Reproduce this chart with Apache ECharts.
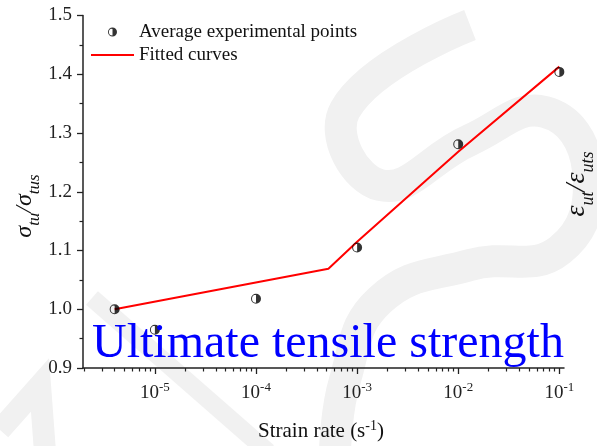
<!DOCTYPE html>
<html><head><meta charset="utf-8">
<script src="https://cdn.jsdelivr.net/npm/echarts@6/dist/echarts.min.js"></script>
<style>html,body{margin:0;padding:0;background:#fff}#c{width:597px;height:446px}</style>
</head><body><div id="c"></div>
<script>
// ---- data ----
const strainRates = [4e-6, 1e-5, 1e-4, 1e-3, 1e-2, 1e-1];
const avgRatios = [1.000, 0.965, 1.018, 1.105, 1.281, 1.404];
const fitRates = [4e-6, 5.2e-4, 1e-3, 1e-2, 1e-1];
const fitRatios = [1.000, 1.069, 1.115, 1.268, 1.413];
const xExponents = [-5, -4, -3, -2, -1];
const minorMultipliers = [2, 3, 4, 5, 6, 7, 8, 9];
const minorDecades = [-6, -5, -4, -3, -2];

const FONT = "'Liberation Serif', 'Times New Roman', serif";
const xMin = -5.711, xMax = -0.954;

const minorTickValues = [];
minorDecades.forEach(n => minorMultipliers.forEach(k => {
  const v = Math.log10(k) + n;
  if (v >= xMin && v <= xMax) minorTickValues.push(v);
}));

const halfCircle = 'path://M10 0A10 10 0 0 1 10 20Z M10 0A10 10 0 0 0 10 20L10 18A8 8 0 0 1 10 2Z';
const wm = '#f1f1f1';

const chart = echarts.init(document.getElementById('c'), null, {renderer: 'canvas'});
const axisColor = '#222';
chart.setOption({
  animation: false,
  backgroundColor: '#fff',
  grid: {left: 83, right: 33, top: 15.5, bottom: 78},
  legend: {
    orient: 'vertical', left: 86, top: 17, itemWidth: 43, itemHeight: 9, itemGap: 3,
    textStyle: {fontFamily: FONT, fontSize: 19, color: '#111', lineHeight: 20},
    data: [
      {name: 'Average experimental points'},
      {name: 'Fitted curves', icon: 'path://M0 0H43V2H0Z', itemStyle: {color: '#ff0000'}}
    ]
  },
  xAxis: [{
    type: 'value', min: xMin, max: xMax,
    axisLine: {lineStyle: {color: axisColor, width: 1.5}},
    splitLine: {show: false},
    axisTick: {show: true, length: 6, customValues: xExponents, lineStyle: {color: axisColor, width: 1.3}},
    axisLabel: {
      customValues: xExponents, margin: 13, color: '#222',
      formatter: v => '{b|10}{s|' + Math.round(v) + '}',
      rich: {
        b: {fontFamily: FONT, fontSize: 19, lineHeight: 22, verticalAlign: 'bottom', color: '#222'},
        s: {fontFamily: FONT, fontSize: 13, lineHeight: 13, verticalAlign: 'top', color: '#222'}
      }
    }
  }, {
    type: 'value', min: xMin, max: xMax, position: 'bottom',
    axisLine: {show: false}, splitLine: {show: false}, axisLabel: {show: false},
    axisTick: {show: true, length: 3.5, customValues: minorTickValues, lineStyle: {color: axisColor, width: 1.2}}
  }],
  yAxis: {
    type: 'value', min: 0.9, max: 1.5, interval: 0.1,
    axisLine: {show: true, lineStyle: {color: axisColor, width: 1.5}},
    splitLine: {show: false},
    axisTick: {show: true, length: 6, lineStyle: {color: axisColor, width: 1.3}},
    minorTick: {show: true, splitNumber: 2, length: 3.5, lineStyle: {color: axisColor, width: 1.2}},
    axisLabel: {margin: 11, fontFamily: FONT, fontSize: 19, color: '#222', formatter: v => v.toFixed(1)}
  },
  series: [{
    name: 'Fitted curves', type: 'line', symbol: 'none', z: 2,
    lineStyle: {color: '#ff0000', width: 2}, itemStyle: {color: '#ff0000'},
    data: fitRates.map((r, i) => [Math.log10(r), fitRatios[i]])
  }, {
    name: 'Average experimental points', type: 'scatter', symbol: halfCircle, symbolSize: 10, z: 3,
    itemStyle: {color: '#000'},
    data: strainRates.map((r, i) => [Math.log10(r), avgRatios[i]])
  }],
  graphic: [{
    type: 'polyline', z: -10, silent: true,
    shape: {points: [[92, 298], [268, 452]]},
    style: {stroke: wm, lineWidth: 18, fill: null}
  }, {
    type: 'polyline', z: -10, silent: true,
    shape: {smooth: 0.45, points: [[470, 25], [345, 110], [380, 185], [470, 140], [545, 112], [588, 170], [560, 250], [470, 265], [380, 300], [345, 380], [335, 452]]},
    style: {stroke: wm, lineWidth: 32, fill: null}
  }, {
    type: 'polyline', z: -10, silent: true,
    shape: {points: [[0, 430], [40, 385], [45, 452]]},
    style: {stroke: wm, lineWidth: 22, fill: null}
  }, {
    type: 'text', left: 92, top: 320, z: 10,
    style: {text: 'Ultimate tensile strength', fontFamily: FONT, fontSize: 48, fill: '#0000ff'}
  }, {
    type: 'text', x: 28, y: 206, rotation: Math.PI / 2, z: 10,
    style: {
      text: '{g|σ}{i|tu}{g|/σ}{i|tus}', align: 'center', verticalAlign: 'middle',
      rich: {
        g: {fontFamily: FONT, fontSize: 24, fontStyle: 'italic', fill: '#111', verticalAlign: 'top', lineHeight: 24},
        i: {fontFamily: FONT, fontSize: 17, fontStyle: 'italic', fill: '#111', verticalAlign: 'bottom', lineHeight: 30}
      }
    }
  }, {
    type: 'text', x: 580, y: 184, rotation: Math.PI / 2, z: 10,
    style: {
      text: '{g|ε}{i|ut}{g|/ε}{i|uts}', align: 'center', verticalAlign: 'middle',
      rich: {
        g: {fontFamily: FONT, fontSize: 28, fontStyle: 'italic', fill: '#111', verticalAlign: 'top', lineHeight: 26},
        i: {fontFamily: FONT, fontSize: 18, fontStyle: 'italic', fill: '#111', verticalAlign: 'bottom', lineHeight: 34}
      }
    }
  }, {
    type: 'text', x: 258, y: 442, z: 10,
    style: {
      text: '{n|Strain rate (s}{s|-1}{n|)}', verticalAlign: 'bottom',
      rich: {
        n: {fontFamily: FONT, fontSize: 21, fill: '#111', verticalAlign: 'bottom', lineHeight: 23},
        s: {fontFamily: FONT, fontSize: 14, fill: '#111', verticalAlign: 'top', lineHeight: 14}
      }
    }
  }]
});
</script></body></html>
